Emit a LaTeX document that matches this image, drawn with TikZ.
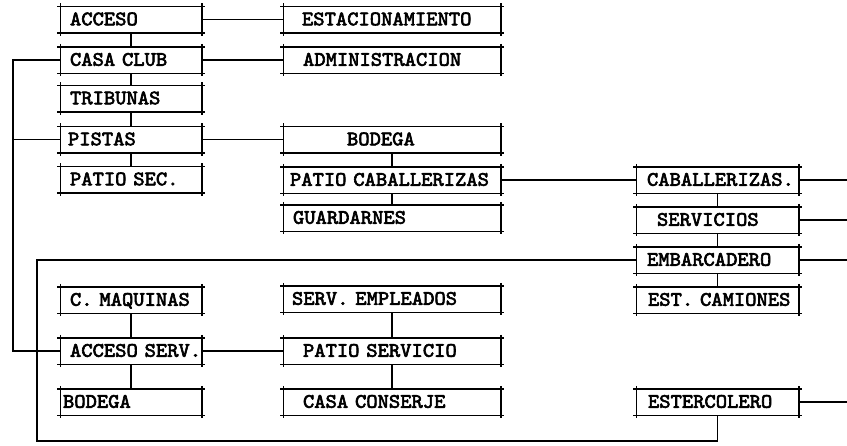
\documentclass[tikz,border=0pt]{standalone}
\usepackage{fontspec}
\newfontfamily\tw{lmmono10-regular.otf}[FakeBold=3,FakeStretch=1.05]
\newcommand\boxtxt[2]{\mbox{\hspace*{#1pt}#2}}
\begin{document}
\begin{tikzpicture}[x=1pt,y=-1pt,line width=1.5pt,
  box/.style={minimum height=25pt, inner xsep=0pt, inner ysep=0pt, text height=11.5pt, text depth=0pt, align=left, font=\tw\fontsize{20.5}{22}\selectfont},
  cA/.style={box, text width=140pt},
  cB/.style={box, text width=216pt},
  cC/.style={box, text width=161pt}]
\useasboundingbox (0,0) rectangle (847,445);
% column 1
\node[cA] (acceso) at (131,19.5) {\boxtxt{9}{ACCESO}};
\node[cA] (casaclub) at (131,60) {\boxtxt{9}{CASA CLUB}};
\node[cA] (tribunas) at (131,98.5) {\boxtxt{9}{TRIBUNAS}};
\node[cA] (pistas) at (131,139.5) {\boxtxt{7}{PISTAS}};
\node[cA] (patiosec) at (131,179.5) {\boxtxt{9}{PATIO SEC.}};
\node[cA] (cmaquinas) at (131,300) {\boxtxt{9}{C. MAQUINAS}};
\node[cA] (accesoserv) at (131,351) {\boxtxt{9}{ACCESO SERV.}};
\node[cA] (bodegab) at (131,402) {\boxtxt{2}{BODEGA}};
% column 2
\node[cB] (estac) at (392,19.5) {\boxtxt{18}{ESTACIONAMIENTO}};
\node[cB] (admin) at (392,60) {\boxtxt{19}{ADMINISTRACION}};
\node[cB] (bodega) at (392,139.5) {\boxtxt{63}{BODEGA}};
\node[cB] (patiocab) at (392,180) {\boxtxt{6}{PATIO CABALLERIZAS}};
\node[cB] (guardarnes) at (392,218) {\boxtxt{9}{GUARDARNES}};
\node[cB] (servemp) at (392,299) {\boxtxt{8}{SERV. EMPLEADOS}};
\node[cB] (patioserv) at (392,351) {\boxtxt{19}{PATIO SERVICIO}};
\node[cB] (conserje) at (392,402) {\boxtxt{19}{CASA CONSERJE}};
% column 3
\node[cC] (caball) at (717.5,180) {\boxtxt{10}{CABALLERIZAS.}};
\node[cC] (servicios) at (717.5,220) {\boxtxt{20}{SERVICIOS}};
\node[cC] (embarc) at (717.5,260) {\boxtxt{10}{EMBARCADERO}};
\node[cC] (estcam) at (717.5,300) {\boxtxt{11}{EST. CAMIONES}};
\node[cC] (esterc) at (717.5,402) {\boxtxt{11}{ESTERCOLERO}};
% box outlines with corner overshoot
\foreach \n in {acceso,casaclub,tribunas,pistas,patiosec,cmaquinas,accesoserv,bodegab,estac,admin,bodega,patiocab,guardarnes,servemp,patioserv,conserje,caball,servicios,embarc,estcam,esterc}{
  \draw ([xshift=-3pt]\n.north west) -- ([xshift=3pt]\n.north east);
  \draw ([xshift=-3pt]\n.south west) -- ([xshift=3pt]\n.south east);
  \draw ([yshift=3pt]\n.north west) -- ([yshift=-3pt]\n.south west);
  \draw ([yshift=3pt]\n.north east) -- ([yshift=-3pt]\n.south east);
}
% vertical chains
\draw (acceso) -- (casaclub) -- (tribunas) -- (pistas) -- (patiosec);
\draw (bodega) -- (patiocab) -- (guardarnes);
\draw (caball) -- (servicios) -- (embarc) -- (estcam);
\draw (cmaquinas) -- (accesoserv) -- (bodegab);
\draw (servemp) -- (patioserv) -- (conserje);
% horizontal links
\draw (acceso.east) -- (estac.west);
\draw (casaclub.east) -- (admin.west);
\draw (pistas.east) -- (bodega.west);
\draw (patiocab.east) -- (caball.west);
\draw (accesoserv.east) -- (patioserv.west);
% outer left loop
\coordinate (ol) at (13,60);
\draw (casaclub.west) -- (ol) |- (accesoserv.west);
\draw (pistas.west) -- (ol |- pistas.west);
% inner loop
\coordinate (ib) at (37,441);
\draw (embarc.west) -| (ib) -| (esterc.south);
% right edge links
\coordinate (re) at (847,0);
\draw (caball.east) -- (re |- caball.east);
\draw (servicios.east) -- (re |- servicios.east);
\draw (embarc.east) -- (re |- embarc.east);
\draw (esterc.east) -- (re |- esterc.east);
\end{tikzpicture}
\end{document}
